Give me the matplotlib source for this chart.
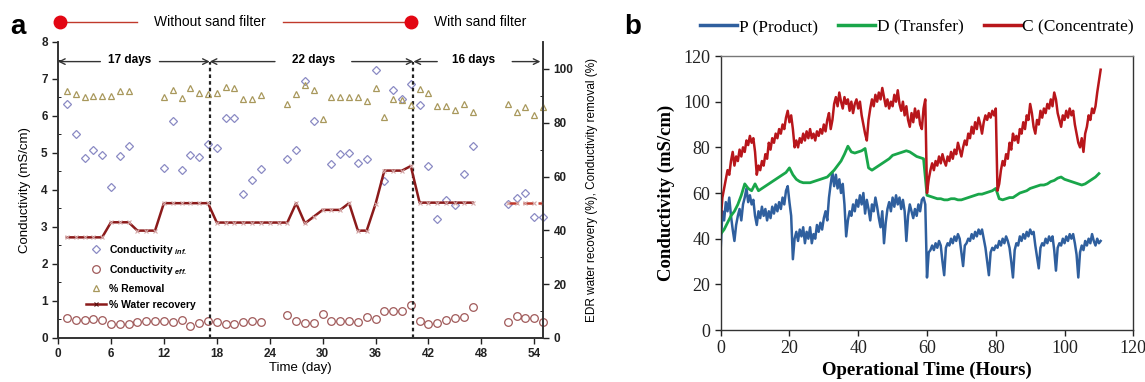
import numpy as np
import matplotlib.pyplot as plt
import matplotlib.transforms as mtransforms
from matplotlib.lines import Line2D

plt.rcParams['font.family'] = ['Liberation Sans', 'DejaVu Sans']
plt.rcParams['mathtext.fontset'] = 'custom'
plt.rcParams['mathtext.it'] = 'Liberation Sans:italic:bold'
plt.rcParams['mathtext.rm'] = 'Liberation Sans:bold'

#% ---- panel a : données ----
inf_days = [1, 2, 3, 4, 5, 6, 7, 8,
            12, 13, 14, 15, 16, 17, 18, 19, 20, 21, 22, 23,
            26, 27, 28, 29, 31, 32, 33, 34, 35, 36, 37, 38, 39, 40,
            41, 42, 43, 44, 45, 46, 47,
            51, 52, 53, 54, 55]
inf_cond = [6.32, 5.51, 4.86, 5.08, 4.95, 4.08, 4.93, 5.19,
            4.60, 5.86, 4.54, 4.95, 4.88, 5.25, 5.14, 5.94, 5.94, 3.88, 4.28, 4.56,
            4.83, 5.07, 6.95, 5.87, 4.70, 4.97, 4.99, 4.74, 4.83, 7.23, 4.25, 6.71, 6.45, 6.86,
            6.29, 4.66, 3.21, 3.74, 3.60, 4.44, 5.19,
            3.62, 3.78, 3.91, 3.26, 3.26]

eff_days = list(range(1, 24)) + list(range(26, 48)) + list(range(51, 56))
eff_cond = [0.53, 0.49, 0.49, 0.51, 0.49, 0.38, 0.38, 0.38, 0.42, 0.45,
            0.45, 0.47, 0.42, 0.49, 0.33, 0.40, 0.47, 0.44, 0.38, 0.38,
            0.42, 0.45, 0.42,
            0.62, 0.47, 0.40, 0.41, 0.64, 0.47, 0.47, 0.47, 0.44, 0.56,
            0.51, 0.74, 0.74, 0.74, 0.89, 0.47, 0.38, 0.41, 0.49, 0.53,
            0.56, 0.83,
            0.44, 0.59, 0.55, 0.55, 0.44]

rem_days = [1, 2, 3, 4, 5, 6, 7, 8] + list(range(12, 24)) + list(range(26, 48)) + list(range(51, 56))
removal = [91.6, 90.7, 89.5, 89.8, 89.8, 89.8, 91.8, 91.9,
           89.6, 92.3, 89.1, 92.9, 91.2, 90.7, 91.0, 93.2, 93.0, 88.8, 88.9, 90.2,
           86.9, 90.7, 94.0, 92.3, 81.3, 89.7, 89.7, 89.7, 89.7, 88.2, 92.8,
           82.3, 88.7, 88.5, 86.6, 92.4, 91.2, 86.2, 86.2, 84.8, 87.0, 83.8,
           86.9, 83.8, 85.8, 82.9, 85.8]

rec_days = list(range(1, 48))
recovery = [37.4, 37.4, 37.4, 37.4, 37.4, 43.0, 43.0, 43.0, 39.9, 39.9,
            39.9, 50.1, 50.1, 50.1, 50.1, 50.1, 50.1, 42.9, 42.9, 42.9,
            42.9, 42.9, 42.9, 42.9, 42.9, 42.9, 50.1, 42.6, 45.1, 47.6,
            47.6, 47.6, 50.1, 39.9, 39.9, 49.8, 62.2, 62.2, 62.2, 63.9,
            50.3, 50.3, 50.3, 50.3, 50.3, 50.3, 50.3]
rec2_days = [51, 52, 53, 54, 55]
recovery2 = [50.3, 50.3, 50.3, 50.3, 50.3]

bounds = [17.2, 40.3]

#% ---- panel b : conductivité (mS/cm), pas de 0.5 h pour P et C, 1 h pour D ----
hours_half = np.arange(0, 111, 0.5)
hours_full = np.arange(0, 111, 1.0)

product = [
    35, 52, 48, 56, 52, 58, 50, 44, 39, 46,
    50, 53, 48, 55, 58, 62, 56, 59, 55, 57,
    50, 46, 52, 49, 54, 50, 53, 48, 52, 49,
    54, 51, 55, 52, 56, 53, 58, 55, 61, 63,
    56, 50, 31, 40, 43, 39, 44, 41, 45, 38,
    43, 40, 45, 38, 42, 40, 46, 43, 47, 44,
    49, 52, 48, 58, 64, 69, 63, 68, 62, 66,
    60, 64, 55, 41, 48, 52, 50, 55, 52, 57,
    54, 59, 55, 60, 51, 57, 53, 48, 55, 52,
    58, 54, 49, 45, 52, 38, 47, 53, 56, 52,
    58, 54, 59, 55, 58, 53, 57, 52, 39, 50,
    55, 52, 49, 53, 50, 55, 52, 57, 58, 55,
    23, 34, 35, 37, 35, 38, 36, 39, 37, 30,
    24, 36, 38, 37, 40, 38, 41, 39, 42, 40,
    34, 28, 37, 38, 40, 39, 42, 40, 43, 41,
    44, 42, 44, 40, 36, 30, 24, 34, 36, 35,
    37, 36, 39, 37, 40, 38, 41, 39, 36, 30,
    23, 35, 38, 37, 41, 39, 42, 40, 43, 41,
    44, 42, 43, 37, 32, 27, 36, 38, 37, 40,
    38, 41, 39, 41, 35, 26, 36, 38, 37, 40,
    38, 41, 39, 42, 40, 42, 38, 33, 23, 34,
    37, 35, 39, 37, 40, 38, 42, 39, 37, 40,
    38, 39]

concentrate = [
    48, 58, 62, 66, 70, 68, 74, 78, 72, 76,
    74, 79, 76, 80, 78, 83, 81, 85, 82, 84,
    78, 68, 72, 70, 74, 72, 77, 75, 82, 79,
    84, 82, 86, 84, 88, 86, 90, 88, 93, 96,
    91, 94, 88, 80, 83, 80, 84, 82, 86, 83,
    87, 84, 88, 84, 86, 83, 87, 85, 88, 86,
    90, 87, 92, 95, 88, 92, 99, 102, 98, 104,
    100, 97, 102, 99, 101, 96, 100, 95, 99, 101,
    97, 100, 94, 90, 86, 83, 92, 97, 101, 98,
    103, 100, 104, 101, 106, 102, 98, 101, 97, 100,
    98, 103, 100, 105, 99, 96, 100, 94, 98, 92,
    89, 95, 91, 97, 93, 96, 90, 88, 97, 101,
    60, 66, 70, 73, 70, 74, 72, 76, 73, 77,
    74, 72, 76, 74, 78, 75, 79, 77, 82, 79,
    76, 80, 83, 81, 86, 84, 89, 86, 91, 88,
    93, 90, 86, 91, 94, 92, 95, 93, 96, 94,
    97, 61, 64, 70, 74, 72, 77, 75, 82, 79,
    86, 83, 85, 82, 88, 86, 91, 88, 94, 92,
    99, 95, 89, 86, 92, 90, 96, 93, 97, 95,
    99, 97, 101, 98, 104, 101, 95, 92, 89, 94,
    92, 96, 93, 97, 94, 96, 90, 86, 82, 80,
    84, 78, 86, 89, 94, 92, 97, 95, 98, 104,
    109, 114]

transfer = [
    42, 44, 47, 50, 52, 55, 59, 64, 62, 61,
    64, 61, 62, 63, 64, 65, 66, 67, 68, 69,
    71, 68, 66, 65, 64.5, 64.5, 64.5, 65, 65.5, 66,
    66.5, 67, 68.5, 70, 72, 74, 77, 80.5, 78, 77.5,
    78, 78.5, 79.5, 71, 70, 71, 72, 73, 74, 75,
    76.5, 77, 77.5, 78, 78.5, 78, 77, 76, 75.5, 75,
    59, 58.5, 58, 57.5, 57.5, 57, 57, 57.5, 57.5, 57,
    57, 57.5, 58, 58.5, 59, 59.5, 59.5, 60, 60.5, 61,
    62, 57.5, 57, 57.5, 58, 58, 59, 60, 60.5, 61,
    62, 62.5, 63, 63.5, 63.5, 64, 65, 65.5, 66.5, 67,
    66, 65.5, 65, 64.5, 64, 63.5, 64, 65, 66, 67,
    68.5]

c_inf = '#8a8ac4'
c_eff = '#a05a5a'
c_rem = '#a8985c'
c_rec = '#8b1a1a'
c_blue = '#2f5f9e'
c_green = '#19a64a'
c_red = '#b8161b'

fig = plt.figure(figsize=(11.45, 3.82), dpi=100)

#----- panel a -----
ax = fig.add_axes([0.0507, 0.1152, 0.4236, 0.7749])
ax2 = ax.twinx()

ax.plot(inf_days, inf_cond, ls='none', marker='D', ms=4, mfc='none', mec=c_inf, mew=0.9, clip_on=False)
ax.plot(eff_days, eff_cond, ls='none', marker='o', ms=5.5, mfc='none', mec=c_eff, mew=0.9, clip_on=False)
ax2.plot(rem_days, removal, ls='none', marker='^', ms=5, mfc='none', mec=c_rem, mew=0.9, clip_on=False)
ax2.plot(rec_days, recovery, color=c_rec, lw=1.8, marker='x', ms=3, mec='#d4a8a8', mew=0.8)
ax2.plot(rec2_days, recovery2, color='#c0392b', lw=1.8, ls=(0, (4, 2)), marker='x', ms=3, mec='#d4a8a8', mew=0.8)

ax.set_xlim(0, 55)
ax.set_ylim(0, 8)
ax2.set_ylim(0, 110)
ax.set_xticks(range(0, 55, 6))
ax.set_yticks(range(0, 9))
ax2.set_yticks(range(0, 101, 20))
ax2.set_yticks(range(10, 110, 20), minor=True)
ax.set_yticks(np.arange(0.5, 8, 1), minor=True)
for a in (ax, ax2):
    a.spines['top'].set_visible(False)
    for s in ('left', 'right', 'bottom'):
        a.spines[s].set_color('#333333')
        a.spines[s].set_linewidth(1.2)
    a.tick_params(labelsize=8.5, width=1, length=4, colors='#222222')
    a.tick_params(which='minor', length=2, direction='in')
    for lbl in a.get_xticklabels() + a.get_yticklabels():
        lbl.set_fontweight('bold')

ax.set_xlabel('Time (day)', fontsize=9.5, labelpad=1)
ax.set_ylabel('Conductivity (mS/cm)', fontsize=9.5, labelpad=7)
ax2.set_ylabel('EDR water recovery (%), Conductivity removal (%)', fontsize=8.5, labelpad=9)

# séparations et flèches des périodes
y_arr = 7.47
ax.vlines(bounds, 0, y_arr, colors='#222222', linestyles=(0, (1.6, 1.4)), lw=1.6)
arr = dict(arrowstyle='->', color='#333333', lw=1, shrinkA=0, shrinkB=0)
periods = [(8.1, '17 days', 4.8, 0, 11.5, 17.2),
           (29.0, '22 days', 24.6, 17.2, 33.3, 40.3),
           (47.1, '16 days', 43.0, 40.3, 51.5, 54.7)]
for xt, txt, l0, l1, r0, r1 in periods:
    ax.annotate('', xy=(l1, y_arr), xytext=(l0, y_arr), arrowprops=arr)
    ax.annotate('', xy=(r1, y_arr), xytext=(r0, y_arr), arrowprops=arr)
    ax.text(xt, y_arr + 0.03, txt, ha='center', va='center', fontsize=8.5, fontweight='bold')

# bandeau "sans / avec filtre"
trans = mtransforms.blended_transform_factory(ax.transData, ax.transAxes)
yb = 1.069
ax.plot([0, 9.0], [yb, yb], color='#c0392b', lw=1, transform=trans, clip_on=False)
ax.plot([25.5, 40.0], [yb, yb], color='#c0392b', lw=1, transform=trans, clip_on=False)
ax.plot([0.2, 40.0], [yb, yb], ls='none', marker='o', ms=9, color='#e30613', transform=trans, clip_on=False)
ax.text(17.25, yb, 'Without sand filter', transform=trans, ha='center', va='center', fontsize=10)
ax.text(42.6, yb, 'With sand filter', transform=trans, ha='left', va='center', fontsize=10)

handles = [Line2D([], [], ls='none', marker='D', ms=4, mfc='none', mec=c_inf, mew=0.9),
           Line2D([], [], ls='none', marker='o', ms=5.5, mfc='none', mec=c_eff, mew=0.9),
           Line2D([], [], ls='none', marker='^', ms=5, mfc='none', mec=c_rem, mew=0.9),
           Line2D([], [], color=c_rec, lw=1.8, marker='x', ms=3, mec='#5a1010', mew=0.8)]
labels = ['Conductivity $_{inf.}$', 'Conductivity $_{eff.}$', '% Removal', '% Water recovery']
ax2.legend(handles, labels, loc='upper left', bbox_to_anchor=(0.058, 0.322), frameon=False,
           prop={'weight': 'bold', 'size': 7.5}, borderpad=0, borderaxespad=0,
           handlelength=1.9, handletextpad=0.3, labelspacing=0.62)

#----- panel b -----
bx = fig.add_axes([0.6294, 0.1361, 0.3604, 0.7173])
bx.plot(hours_half, product, color=c_blue, lw=1.8)
bx.plot(hours_full, transfer, color=c_green, lw=2)
bx.plot(hours_half, concentrate, color=c_red, lw=1.8)
bx.set_xlim(0, 120)
bx.set_ylim(0, 120)
bx.set_xticks(range(0, 121, 20))
bx.set_yticks(range(0, 121, 20))
bx.tick_params(labelsize=13, length=4, width=1, colors='#222222')
for lbl in bx.get_xticklabels() + bx.get_yticklabels():
    lbl.set_fontfamily('Liberation Serif')
for s in bx.spines.values():
    s.set_color('#333333')
    s.set_linewidth(1)
bx.spines['top'].set_color('#777777')
bx.set_xlabel('Operational Time (Hours)', fontsize=13.5, fontweight='bold',
              fontfamily='Liberation Serif', labelpad=3)
bx.set_ylabel('Conductivity (mS/cm)', fontsize=13.5, fontweight='bold',
              fontfamily='Liberation Serif', labelpad=6)

hb = [Line2D([], [], color=c_blue, lw=2.5),
      Line2D([], [], color=c_green, lw=2.5),
      Line2D([], [], color=c_red, lw=2.5)]
fig.legend(hb, ['P (Product)', 'D (Transfer)', 'C (Concentrate)'], loc='center',
           bbox_to_anchor=(0.801, 0.929), ncol=3, frameon=False,
           prop={'family': 'Liberation Serif', 'size': 12.5},
           handlelength=2.1, handletextpad=0.1, columnspacing=1.2)

fig.text(17.5 / 1145, 1 - 27 / 382, 'a', fontsize=20, fontweight='bold', ha='center', va='center')
fig.text(633 / 1145, 1 - 27 / 382, 'b', fontsize=20, fontweight='bold', ha='center', va='center')

fig.savefig('out.png', dpi=100)
